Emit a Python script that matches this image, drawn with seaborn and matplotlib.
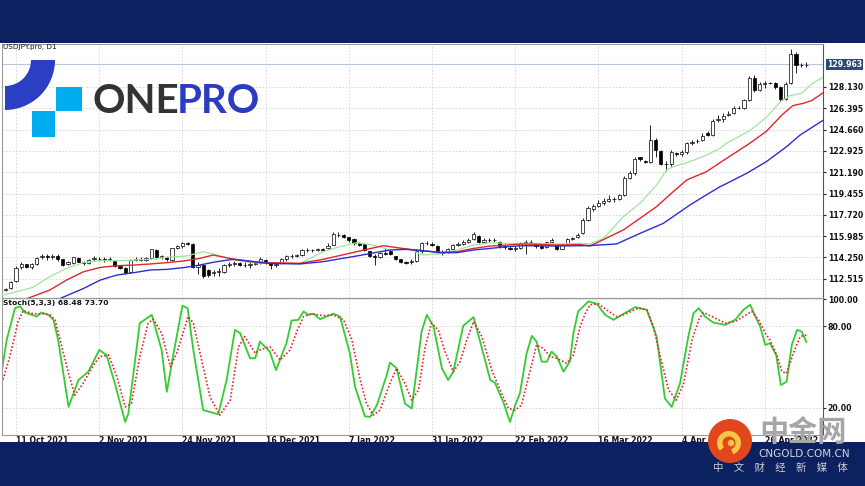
import numpy as np
import matplotlib
matplotlib.use("Agg")
import matplotlib.pyplot as plt
from matplotlib.patches import Rectangle, Wedge, Circle
import seaborn as sns

# USDJPY daily candles (bar 0 = 7 Oct 2021)
opens = [111.62, 111.73, 112.30, 113.45, 113.68, 113.45, 113.72, 114.25, 114.35, 114.30,
         114.40, 114.10, 113.70, 113.82, 114.22, 113.88, 113.80, 114.10, 114.15, 114.10,
         114.05, 113.95, 113.55, 113.38, 113.05, 114.05, 114.12, 114.05, 114.18, 114.88,
         114.25, 114.30, 114.05, 115.00, 115.15, 115.40, 115.38, 113.50, 113.60, 113.20,
         112.95, 113.05, 113.10, 113.60, 113.72, 113.80, 113.65, 113.62, 113.70, 113.80,
         114.05, 113.80, 113.62, 113.80, 114.10, 114.35, 114.38, 114.45, 114.85, 114.85,
         114.85, 114.95, 115.00, 115.30, 116.10, 116.05, 115.90, 115.72, 115.40, 115.35,
         114.75, 114.35, 114.30, 114.60, 114.75, 114.35, 114.10, 113.90, 113.85, 113.95,
         114.75, 115.45, 115.35, 115.15, 114.70, 114.70, 114.95, 115.25, 115.35, 115.55,
         115.75, 116.00, 115.55, 115.70, 115.65, 115.55, 115.15, 115.05, 114.95, 115.05,
         115.45, 115.55, 115.40, 115.15, 115.10, 115.50, 115.30, 114.95, 115.40, 115.75,
         115.95, 116.25, 117.30, 118.20, 118.45, 118.70, 118.85, 119.05, 119.05, 119.35,
         120.75, 121.10, 122.40, 122.10, 122.05, 123.85, 122.90, 121.90, 121.85, 122.75,
         122.70, 122.80, 123.55, 123.70, 123.80, 124.40, 124.25, 125.45, 125.55, 125.85,
         126.05, 126.45, 126.45, 127.05, 128.90, 127.90, 128.40, 128.45, 128.45, 128.10,
         127.15, 128.45, 130.80, 129.90, 129.90]
highs = [111.80, 112.35, 113.55, 113.85, 113.75, 113.80, 114.30, 114.50, 114.50, 114.55,
         114.50, 114.15, 113.95, 114.30, 114.30, 113.95, 114.10, 114.40, 114.30, 114.25,
         114.25, 114.00, 113.62, 113.45, 114.10, 114.30, 114.25, 114.30, 114.95, 114.92,
         114.45, 114.40, 115.05, 115.30, 115.52, 115.50, 115.45, 113.90, 113.70, 113.30,
         113.25, 113.40, 113.70, 113.90, 113.95, 113.90, 113.85, 113.85, 113.95, 114.25,
         114.15, 113.85, 113.90, 114.20, 114.45, 114.50, 114.55, 114.95, 115.00, 114.95,
         115.05, 115.00, 115.40, 116.30, 116.35, 116.15, 115.95, 115.80, 115.55, 115.40,
         114.80, 114.55, 114.70, 115.05, 114.85, 114.40, 114.15, 114.00, 114.10, 114.90,
         115.55, 115.60, 115.50, 115.25, 114.85, 115.05, 115.35, 115.50, 115.65, 115.85,
         116.35, 116.10, 115.85, 115.85, 115.85, 115.60, 115.30, 115.15, 115.15, 115.55,
         115.65, 115.70, 115.45, 115.25, 115.55, 115.80, 115.35, 115.35, 115.85, 115.95,
         116.25, 117.45, 118.45, 118.60, 118.90, 119.10, 119.30, 119.20, 119.45, 120.85,
         121.25, 122.45, 122.45, 122.20, 125.05, 124.00, 123.00, 122.10, 123.00, 122.85,
         123.00, 123.65, 123.85, 123.90, 124.35, 124.55, 125.50, 125.85, 126.00, 126.15,
         126.55, 126.55, 127.15, 129.05, 129.10, 128.55, 128.65, 128.55, 128.55, 128.20,
         128.50, 131.20, 131.00, 130.05, 130.15]
lows = [111.55, 111.65, 112.25, 113.35, 113.38, 113.35, 113.65, 114.10, 114.05, 114.15,
        114.00, 113.55, 113.60, 113.75, 113.85, 113.65, 113.75, 114.00, 113.95, 113.90,
        113.95, 113.50, 113.30, 112.90, 112.95, 113.95, 113.95, 113.95, 114.10, 114.15,
        114.10, 113.95, 113.95, 114.90, 115.05, 115.30, 113.40, 112.90, 112.60, 112.70,
        112.75, 112.75, 113.00, 113.50, 113.55, 113.55, 113.45, 113.40, 113.60, 113.70,
        113.75, 113.35, 113.50, 113.70, 114.00, 114.20, 114.25, 114.35, 114.70, 114.70,
        114.75, 114.75, 114.95, 115.25, 115.90, 115.80, 115.55, 115.30, 115.20, 114.75,
        114.25, 113.65, 114.20, 114.45, 114.45, 114.05, 113.80, 113.70, 113.75, 113.85,
        114.65, 115.25, 115.15, 114.65, 114.45, 114.60, 114.85, 115.15, 115.25, 115.45,
        115.65, 115.45, 115.45, 115.50, 115.50, 115.05, 114.95, 114.85, 114.75, 114.90,
        114.50, 115.35, 115.05, 114.95, 115.00, 115.40, 114.85, 114.90, 115.30, 115.65,
        115.85, 116.15, 117.20, 118.00, 118.35, 118.55, 118.75, 118.80, 118.95, 119.25,
        120.65, 121.00, 122.10, 121.95, 121.95, 122.40, 121.75, 121.30, 121.70, 122.55,
        122.55, 122.70, 123.40, 123.55, 123.70, 124.15, 124.15, 125.25, 125.30, 125.75,
        125.95, 126.30, 126.35, 126.95, 127.75, 127.80, 128.05, 128.35, 128.00, 126.95,
        127.05, 128.35, 129.30, 129.75, 129.75]
closes = [111.72, 112.28, 113.40, 113.70, 113.45, 113.70, 114.20, 114.35, 114.30, 114.40,
          114.10, 113.65, 113.85, 114.25, 113.90, 113.80, 114.05, 114.20, 114.10, 114.05,
          114.10, 113.58, 113.42, 112.98, 114.05, 114.15, 114.05, 114.20, 114.90, 114.25,
          114.35, 114.10, 115.00, 115.15, 115.40, 115.38, 113.45, 113.65, 112.75, 112.85,
          113.10, 113.15, 113.60, 113.72, 113.78, 113.65, 113.62, 113.70, 113.80, 114.10,
          113.85, 113.60, 113.75, 114.10, 114.35, 114.38, 114.45, 114.85, 114.88, 114.82,
          114.95, 114.85, 115.15, 116.15, 116.05, 115.90, 115.65, 115.40, 115.30, 114.85,
          114.35, 114.30, 114.62, 114.55, 114.55, 114.15, 113.90, 113.82, 113.98, 114.80,
          115.45, 115.40, 115.30, 114.75, 114.65, 114.95, 115.25, 115.35, 115.55, 115.70,
          116.20, 115.55, 115.70, 115.65, 115.65, 115.15, 115.10, 114.95, 115.00, 115.45,
          115.55, 115.50, 115.15, 115.05, 115.50, 115.65, 114.95, 115.25, 115.75, 115.85,
          116.10, 117.30, 118.25, 118.45, 118.65, 118.85, 119.05, 119.00, 119.35, 120.70,
          121.10, 122.30, 122.25, 122.05, 123.85, 123.00, 121.90, 121.85, 122.80, 122.70,
          122.85, 123.55, 123.65, 123.75, 124.10, 124.25, 125.35, 125.55, 125.80, 125.95,
          126.45, 126.42, 127.05, 128.90, 127.90, 128.40, 128.45, 128.45, 128.10, 127.15,
          128.40, 130.80, 129.90, 129.88, 129.96]

# Alligator lines (bar position, price), shifted lines run past the last bar
lips_x = [-1.1, 5.3, 8.5, 11.7, 15.0, 18.2, 21.4, 24.6, 27.8, 31.0, 34.8, 38.0, 40.6, 43.8,
          47.0, 50.2, 56.6, 61.1, 64.3, 67.5, 70.7, 73.9, 77.1, 80.3, 83.5, 86.8, 90.0, 93.2,
          96.4, 99.6, 102.8, 106.0, 110.5, 112.4, 115.0, 118.8, 122.0, 125.2, 127.1, 128.4,
          131.6, 134.8, 137.4, 138.6, 143.1, 146.3, 148.9, 150.8, 153.1, 155.0, 157.3]
lips_y = [111.11, 111.82, 112.69, 113.36, 113.83, 113.99, 113.99, 114.04, 114.10, 114.26,
          114.37, 114.72, 114.45, 114.04, 113.85, 113.77, 113.77, 114.72, 115.13, 115.45,
          115.26, 114.86, 114.99, 114.45, 114.55, 114.86, 115.26, 115.45, 115.40, 115.40,
          115.40, 115.35, 115.40, 115.35, 115.81, 117.57, 118.66, 120.15, 121.37, 121.64,
          122.05, 122.59, 123.14, 123.54, 124.57, 125.66, 126.88, 127.42, 127.61, 128.37,
          128.95]
teeth_x = [3.4, 8.5, 11.7, 15.0, 18.2, 21.4, 24.6, 27.8, 31.0, 34.2, 37.4, 39.9, 43.8, 47.0,
           50.2, 56.6, 61.1, 67.5, 72.6, 77.1, 80.3, 83.5, 86.8, 90.0, 93.2, 96.4, 99.6,
           106.0, 110.5, 112.4, 118.8, 125.2, 128.4, 131.0, 134.8, 137.4, 143.1, 146.3,
           149.5, 151.4, 153.4, 155.0, 157.3]
teeth_y = [110.79, 111.60, 112.41, 113.09, 113.44, 113.58, 113.63, 113.72, 113.83, 113.96,
           114.18, 114.45, 114.12, 113.91, 113.83, 113.77, 114.10, 114.72, 115.21, 114.94,
           114.80, 114.67, 114.72, 114.99, 115.18, 115.26, 115.35, 115.26, 115.30, 115.18,
           116.49, 118.39, 119.61, 120.56, 121.24, 121.97, 123.54, 124.52, 125.93, 126.61,
           126.80, 127.02, 127.68]
jaw_x = [9.8, 15.0, 18.2, 21.4, 24.6, 27.8, 31.0, 34.2, 37.4, 40.6, 43.8, 47.0, 50.2, 56.6,
         61.1, 67.5, 73.9, 77.1, 80.3, 83.5, 86.8, 90.0, 93.2, 96.4, 99.6, 106.0, 112.4,
         117.5, 122.0, 126.5, 131.6, 134.2, 137.4, 138.7, 142.5, 146.3, 150.2, 152.8, 155.3,
         157.3]
jaw_y = [110.79, 111.73, 112.41, 112.82, 113.01, 113.23, 113.28, 113.42, 113.64, 113.91,
         114.10, 113.96, 113.77, 113.72, 113.91, 114.37, 114.86, 114.91, 114.80, 114.64,
         114.64, 114.86, 114.99, 115.13, 115.21, 115.18, 115.22, 115.35, 116.21, 117.03,
         118.52, 119.20, 120.01, 120.28, 121.10, 122.05, 123.27, 124.22, 124.90, 125.44]

# Stochastic(5,3,3): %K main line and %D signal line
k_x = [-1.1, 0.2, 1.8, 2.8, 3.7, 6.0, 6.9, 8.2, 9.2, 10.1, 12.1, 14.0, 15.9, 18.0, 19.4,
       21.0, 23.0, 23.6, 25.8, 28.1, 30.0, 31.0, 32.3, 34.0, 35.0, 36.1, 38.0, 40.9, 42.5,
       44.1, 45.1, 47.0, 48.0, 48.9, 50.8, 52.0, 54.0, 55.0, 56.3, 57.3, 58.2, 59.2, 60.5,
       63.0, 64.3, 66.2, 67.2, 69.1, 70.1, 71.4, 73.3, 73.9, 75.2, 76.8, 78.1, 80.0, 81.0,
       82.3, 83.9, 85.1, 86.1, 88.0, 90.0, 91.6, 93.2, 94.1, 95.7, 97.0, 98.0, 98.9, 100.2,
       101.2, 102.1, 103.1, 104.1, 105.0, 106.0, 107.3, 108.5, 109.2, 110.1, 112.1, 113.7,
       115.3, 116.9, 118.5, 121.1, 123.3, 125.2, 126.8, 128.1, 129.7, 131.3, 132.3, 133.3,
       134.5, 136.1, 138.4, 140.3, 141.9, 143.2, 144.2, 145.1, 146.1, 147.0, 148.2, 149.1,
       150.2, 151.2, 152.2, 153.1, 154.0]
k_val = [38.0, 70.0, 93.4, 94.7, 90.2, 87.3, 90.2, 88.5, 84.8, 70.0, 20.7, 40.5, 46.6, 62.6,
         58.9, 38.0, 9.6, 15.8, 82.4, 88.5, 62.6, 31.8, 60.2, 95.2, 93.4, 62.6, 18.3, 15.3,
         40.5, 77.4, 75.0, 56.5, 56.5, 68.8, 61.4, 47.8, 67.6, 84.3, 84.8, 91.0, 88.5, 89.3,
         85.3, 89.3, 87.3, 60.2, 35.5, 13.8, 13.3, 22.0, 44.2, 53.3, 49.1, 23.2, 19.5, 76.2,
         88.5, 79.9, 49.1, 40.5, 46.6, 80.4, 86.8, 63.9, 40.5, 38.5, 24.4, 9.6, 22.0, 30.6,
         60.2, 73.0, 68.8, 54.0, 54.0, 61.4, 57.7, 46.6, 54.0, 75.0, 91.0, 98.4, 96.6, 88.5,
         84.8, 88.5, 94.2, 92.2, 72.5, 26.9, 20.7, 38.0, 72.5, 89.7, 93.4, 87.3, 82.8, 81.1,
         84.8, 92.2, 95.9, 87.3, 79.9, 66.3, 67.6, 58.9, 36.8, 39.2, 66.3, 77.4, 76.2, 68.48]
d_x = [-1.1, 0.8, 2.4, 3.4, 5.3, 7.3, 8.5, 9.5, 10.8, 12.1, 13.3, 14.9, 16.9, 18.1, 19.8,
       21.4, 23.0, 24.2, 25.8, 27.4, 28.4, 30.0, 31.7, 32.9, 34.2, 35.1, 36.1, 37.4, 39.3,
       41.2, 43.2, 44.8, 46.0, 48.0, 48.9, 50.8, 52.8, 54.7, 56.0, 57.3, 58.9, 61.1, 63.0,
       65.0, 66.6, 68.2, 69.4, 70.7, 72.0, 73.9, 75.2, 76.8, 78.1, 79.4, 80.7, 81.9, 83.2,
       84.5, 86.1, 87.4, 88.7, 90.0, 91.6, 93.5, 95.1, 96.7, 98.0, 99.2, 100.9, 102.1, 103.4,
       104.7, 106.0, 107.9, 109.2, 110.5, 111.5, 112.4, 114.0, 115.6, 117.6, 119.5, 121.7,
       123.3, 124.6, 125.9, 127.5, 129.0, 130.4, 132.0, 133.3, 134.2, 136.1, 138.4, 140.3,
       141.9, 143.5, 144.8, 146.1, 147.0, 148.3, 149.3, 150.2, 151.5, 152.8, 154.0]
d_val = [33.1, 57.7, 83.6, 91.7, 89.3, 89.3, 88.5, 84.8, 65.1, 45.4, 29.4, 38.0, 51.5, 57.7,
         58.9, 42.9, 20.7, 23.2, 57.7, 82.4, 85.3, 75.0, 50.3, 60.2, 76.2, 87.3, 82.4, 60.2,
         28.1, 14.6, 25.7, 65.1, 72.5, 60.2, 62.6, 65.1, 55.2, 62.6, 76.2, 87.3, 89.3, 87.8,
         88.5, 84.8, 70.0, 40.5, 23.2, 14.6, 18.3, 38.0, 49.1, 38.0, 25.7, 33.1, 65.1, 82.4,
         77.4, 61.4, 46.6, 54.0, 70.0, 83.6, 72.5, 47.8, 33.1, 19.5, 18.3, 22.0, 47.8, 66.3,
         63.9, 57.7, 56.5, 52.8, 58.9, 80.0, 89.7, 95.9, 96.6, 92.2, 86.8, 89.7, 93.4, 92.2,
         79.9, 57.7, 33.1, 25.7, 38.0, 70.0, 84.8, 90.2, 86.8, 82.4, 83.6, 87.3, 91.0, 84.8,
         75.0, 70.0, 58.9, 46.6, 45.4, 60.2, 72.5, 73.7]

date_pos = [2, 18, 34, 50, 66, 82, 98, 114, 130, 146]
date_labels = ["11 Oct 2021", "2 Nov 2021", "24 Nov 2021", "16 Dec 2021", "7 Jan 2022",
               "31 Jan 2022", "22 Feb 2022", "16 Mar 2022", "4 Apr 2022", "26 Apr 2022"]
price_ticks = [112.515, 114.250, 115.985, 117.720, 119.455, 121.190, 122.925, 124.660,
               126.395, 128.130]
stoch_ticks = [20, 80, 100]
last_price = 129.963

sns.set_style("white")
plt.rcParams['font.family'] = ['DejaVu Sans', 'Noto Sans CJK SC']
cjk = ['Noto Sans CJK SC', 'DejaVu Sans']
navy = '#0b2160'
grid_kw = dict(color='#d2d2d2', linestyle=(0, (2, 2)), linewidth=0.6)

fig = plt.figure(figsize=(8.65, 4.86), dpi=100)
ax = fig.add_axes([2 / 865, 188 / 486, 821 / 865, 254 / 486])
ax2 = fig.add_axes([2 / 865, 51 / 486, 821 / 865, 137 / 486])

# price pane
idx = np.arange(len(closes))
o = np.array(opens)
c = np.array(closes)
ax.vlines(idx, lows, highs, color='black', lw=0.6, zorder=2)
ax.bar(idx, np.maximum(np.abs(c - o), 0.04), bottom=np.minimum(o, c), width=0.62,
       color=np.where(c >= o, 'white', 'black'), edgecolor='black', linewidth=0.5, zorder=3)
sns.lineplot(x=lips_x, y=lips_y, ax=ax, color='#9be89b', lw=0.9, estimator=None, sort=False, zorder=4)
sns.lineplot(x=teeth_x, y=teeth_y, ax=ax, color='#e0262b', lw=1.0, estimator=None, sort=False, zorder=4)
sns.lineplot(x=jaw_x, y=jaw_y, ax=ax, color='#2b2fd0', lw=1.0, estimator=None, sort=False, zorder=4)
ax.axhline(last_price, color='#b8c6dc', lw=0.8, zorder=1)
ax.set_xlim(-0.7, 157.2)
ax.set_ylim(110.95, 131.63)
ax.set_xticks(date_pos)
ax.set_yticks(price_ticks)
ax.set_yticklabels([f"{t:.3f}" for t in price_ticks])
ax.grid(True, **grid_kw)
ax.set_axisbelow(True)
ax.tick_params(axis='x', length=0, labelbottom=False)
ax.tick_params(axis='y', left=False, right=True, labelleft=False, labelright=True,
               length=2, pad=1.5, labelsize=5.6, labelcolor='#111111')
for lbl in ax.get_yticklabels():
    lbl.set_fontweight('bold')
ax.text(1.0045, last_price, f"{last_price:.3f}", transform=ax.get_yaxis_transform(),
        fontsize=5.6, fontweight='bold', color='white', va='center', ha='left',
        bbox=dict(boxstyle='square,pad=0.15', fc='#2c4a7c', ec='none'))
ax.set_xlabel('')
ax.set_ylabel('')

# stochastic pane
sns.lineplot(x=k_x, y=k_val, ax=ax2, color='#33cc33', lw=1.3, estimator=None, sort=False)
sns.lineplot(x=d_x, y=d_val, ax=ax2, color='#e3262a', lw=1.2, linestyle=(0, (1, 1.2)),
             estimator=None, sort=False)
ax2.set_xlim(-0.7, 157.2)
ax2.set_ylim(0, 100.9)
ax2.set_yticks(stoch_ticks)
ax2.set_yticklabels([f"{t:.2f}" for t in stoch_ticks])
ax2.set_xticks(date_pos)
ax2.set_xticklabels(date_labels, fontsize=5.6, fontweight='bold', ha='left')
ax2.grid(True, **grid_kw)
ax2.set_axisbelow(True)
ax2.tick_params(axis='x', length=0, pad=1, labelcolor='#111111')
ax2.tick_params(axis='y', left=False, right=True, labelleft=False, labelright=True,
                length=2, pad=1.5, labelsize=5.6, labelcolor='#111111')
for lbl in ax2.get_yticklabels():
    lbl.set_fontweight('bold')
ax2.set_xlabel('')
ax2.set_ylabel('')

for a in (ax, ax2):
    for side in ('top', 'left', 'bottom'):
        a.spines[side].set_color('#9a9a9a')
        a.spines[side].set_linewidth(0.8)
    a.spines['right'].set_color('#555555')
    a.spines['right'].set_linewidth(0.8)

# overlay in pixel units: bands, captions, logos
ov = fig.add_axes([0, 0, 1, 1])
ov.set_xlim(0, 865)
ov.set_ylim(486, 0)
ov.axis('off')
ov.set_zorder(10)
ov.patch.set_alpha(0)
ov.add_patch(Rectangle((0, 0), 865, 43, fc=navy, ec='none'))
ov.add_patch(Rectangle((0, 442), 865, 44, fc=navy, ec='none'))
ov.text(3, 47, "USDJPY.pro, D1", fontsize=5.2, color='#111111', va='center', ha='left')
ov.text(3, 302.5, "Stoch(5,3,3) 68.48 73.70", fontsize=5.4, fontweight='bold',
        color='#111111', va='center', ha='left')

# ONEPRO logo
ov.add_patch(Wedge((5, 60), 50, 0, 90, width=24, fc='#2b3fc2', ec='none'))
ov.add_patch(Rectangle((56, 87), 26, 24, fc='#00aeef', ec='none'))
ov.add_patch(Rectangle((32, 111), 23, 26, fc='#00aeef', ec='none'))
ov.text(92, 113, "ONE", fontsize=29, fontweight='bold', family='Lato', color='#333333',
        va='baseline', ha='left')
ov.text(177, 113, "PRO", fontsize=29, fontweight='bold', family='Lato', color='#2b3cc4',
        va='baseline', ha='left')

# CNGOLD watermark
ov.add_patch(Circle((730, 441), 22, fc='#e2461d', ec='none'))
ov.add_patch(Wedge((729, 443), 12, 140, 430, width=5.5, fc='#f7c548', ec='none'))
ov.add_patch(Circle((731, 443), 3.2, fc='#f7c548', ec='none'))
ov.text(759, 432, "中金网", fontsize=21, fontweight='bold', family=cjk, color='#a6a6a6',
        va='center', ha='left')
ov.text(804, 454, "CNGOLD.COM.CN", fontsize=7.5, color='#d6d6d6', va='center', ha='center')
ov.text(780, 468, "中　文　财　经　新　媒　体", fontsize=7.5, family=cjk, color='#cfcfcf',
        va='center', ha='center')

fig.savefig("out.png", dpi=100, facecolor='white')
